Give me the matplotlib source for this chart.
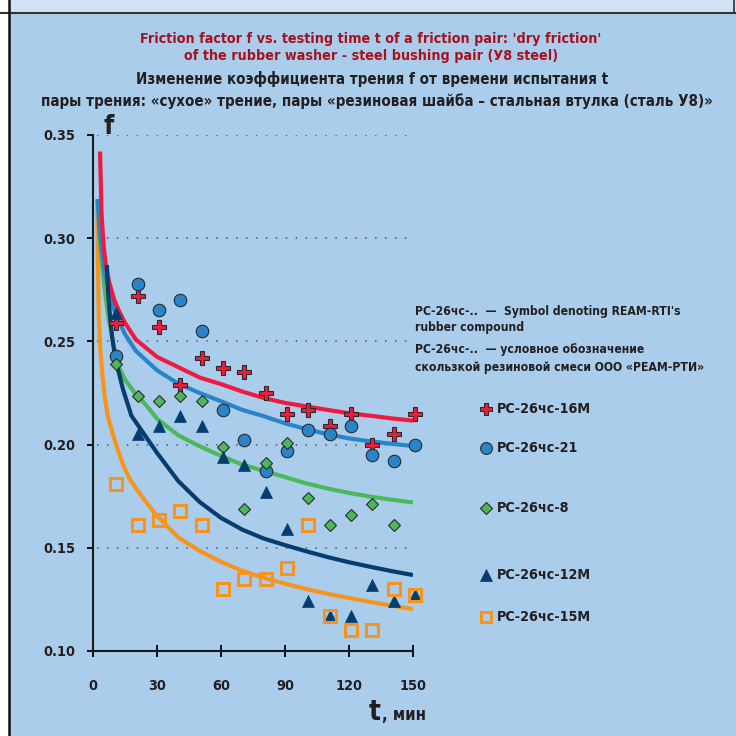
import os
import matplotlib
matplotlib.use("Agg")
import matplotlib.pyplot as plt
from matplotlib import font_manager as fm
from matplotlib.lines import Line2D
from matplotlib.patches import Rectangle

# time points of measurements, min
t_pts = [11, 21, 31, 41, 51, 61, 71, 81, 91, 101, 111, 121, 131, 141, 151]
t_pts_8 = t_pts[:-1]

f_16m = [0.259, 0.272, 0.257, 0.229, 0.242, 0.237, 0.235, 0.225, 0.215, 0.217, 0.209, 0.215, 0.200, 0.205, 0.215]
f_21 = [0.243, 0.278, 0.265, 0.270, 0.255, 0.217, 0.202, 0.187, 0.197, 0.207, 0.205, 0.209, 0.195, 0.192, 0.200]
f_8 = [0.239, 0.2235, 0.221, 0.2235, 0.221, 0.199, 0.169, 0.191, 0.201, 0.174, 0.161, 0.166, 0.171, 0.161]
f_12m = [0.264, 0.205, 0.209, 0.214, 0.209, 0.194, 0.190, 0.177, 0.159, 0.124, 0.117, 0.117, 0.132, 0.124, 0.127]
f_15m = [0.181, 0.161, 0.1635, 0.168, 0.161, 0.130, 0.135, 0.135, 0.140, 0.161, 0.117, 0.110, 0.110, 0.130, 0.127]

# trend curves
red_t = [3.3, 4, 5, 6, 7.5, 10, 12.5, 15, 20, 30, 40, 50, 60, 70, 80, 90, 100, 110, 120, 130, 140, 150]
red_f = [0.342, 0.312, 0.296, 0.287, 0.279, 0.270, 0.264, 0.259, 0.251, 0.2425, 0.2375, 0.2325, 0.2293, 0.2257, 0.2226, 0.2202, 0.2185, 0.2168, 0.2152, 0.2140, 0.2127, 0.2116]

blue_t = [2.2, 3, 4, 5, 6, 8, 10, 12.5, 15, 20, 30, 40, 50, 60, 70, 80, 90, 100, 110, 120, 130, 140, 150]
blue_f = [0.319, 0.305, 0.295, 0.287, 0.281, 0.272, 0.265, 0.259, 0.2535, 0.2455, 0.236, 0.2295, 0.225, 0.221, 0.2168, 0.2138, 0.2103, 0.2075, 0.2050, 0.2030, 0.2016, 0.2004, 0.1993]

green_t = [2.2, 3, 4, 5, 6, 7.5, 9.5, 11, 15, 20, 25, 30, 40, 50, 60, 70, 80, 90, 100, 110, 120, 130, 140, 150]
green_f = [0.319, 0.303, 0.290, 0.280, 0.271, 0.260, 0.249, 0.240, 0.2315, 0.2245, 0.219, 0.2125, 0.2045, 0.1992, 0.1945, 0.1903, 0.1873, 0.1843, 0.1812, 0.1787, 0.1766, 0.1748, 0.1733, 0.1720]

navy_t = [6.5, 7.2, 8, 9, 10, 11, 14, 18, 23.6, 30, 40, 50, 60, 70, 80, 90, 100, 110, 120, 130, 140, 150]
navy_f = [0.287, 0.272, 0.262, 0.252, 0.245, 0.2395, 0.227, 0.214, 0.2056, 0.196, 0.1823, 0.1722, 0.1645, 0.1588, 0.1545, 0.1513, 0.1483, 0.1455, 0.1430, 0.1408, 0.1387, 0.1368]

orange_t = [2.0, 2.3, 2.7, 3.5, 4.5, 5.5, 7, 9, 11, 14, 17, 20, 25, 30, 40, 50, 60, 70, 80, 90, 100, 110, 120, 130, 140, 150]
orange_f = [0.318, 0.29, 0.262, 0.245, 0.233, 0.223, 0.2135, 0.206, 0.1995, 0.1905, 0.1837, 0.179, 0.172, 0.1655, 0.155, 0.1485, 0.1432, 0.1388, 0.1355, 0.1326, 0.1300, 0.1277, 0.1257, 0.1238, 0.1220, 0.1203]

x_ticks = [0, 30, 60, 90, 120, 150]
y_ticks = [0.10, 0.15, 0.20, 0.25, 0.30, 0.35]
grid_y = [0.15, 0.20, 0.25, 0.30, 0.35]

names = ['РС-26чс-16М', 'РС-26чс-21', 'РС-26чс-8', 'РС-26чс-12М', 'РС-26чс-15М']

title_red = ["Friction factor f vs. testing time t of a friction pair: 'dry friction'",
             "of the rubber washer - steel bushing pair (У8 steel)"]
title_ru = ["Изменение коэффициента трения f от времени испытания t",
            "пары трения: «сухое» трение, пары «резиновая шайба – стальная втулка (сталь У8)»"]
note = ["РС-26чс-..  —  Symbol denoting REAM-RTI's",
        "rubber compound",
        "РС-26чс-..  — условное обозначение",
        "скользкой резиновой смеси ООО «РЕАМ-РТИ»"]

RED = '#ee1b3f'
BLUE = '#2a85c8'
GREEN = '#4cb85c'
NAVY = '#063d70'
ORANGE = '#f7941d'
EDGE = '#2a2a2a'
TXT = '#231f20'
BG = '#abcdec'


# the original uses a bold condensed face; take a narrow bold font if one is installed
def pick_font():
    wanted = ['liberationsansnarrow-bold', 'dejavusanscondensed-bold', 'robotocondensed-bold',
              'opensanscondensed-bold', 'notosans-condensedbold', 'opensans-condensedbold']
    files = [f.fname for f in fm.fontManager.ttflist]
    for w in wanted:
        for fn in files:
            base = os.path.splitext(os.path.basename(fn))[0].lower().replace(' ', '')
            if base == w:
                return fm.FontProperties(fname=fn)
    for fn in files:
        base = os.path.basename(fn).lower()
        if ('condensed' in base or 'narrow' in base) and 'bold' in base \
                and 'italic' not in base and 'oblique' not in base:
            return fm.FontProperties(fname=fn)
    return fm.FontProperties(family='DejaVu Sans', weight='bold')


FP = pick_font()

fig = plt.figure(figsize=(7.36, 7.36), dpi=100)
fig.patch.set_facecolor(BG)
renderer = fig.canvas.get_renderer()


def put(x, y, s, size, color=TXT, ha='left', va='center'):
    return fig.text(x / 736, 1 - y / 736, s, fontproperties=FP, fontsize=size,
                    color=color, ha=ha, va=va)


def fit(txt, width_px):
    # scale font size so the text takes the width it has in the original
    w = txt.get_window_extent(renderer=renderer).width
    size = txt.get_fontsize() * width_px / w
    txt.set_fontsize(size)
    return size


# page decorations: light top strip and white left strip
fig.add_artist(Rectangle((0, 1 - 12 / 736), 1, 12 / 736, transform=fig.transFigure, color='#d0e3f6', zorder=0))
fig.add_artist(Line2D([0, 1], [1 - 12.5 / 736] * 2, transform=fig.transFigure, color='#333333', lw=1.5))
fig.add_artist(Line2D([733.5 / 736] * 2, [1 - 12.5 / 736, 1], transform=fig.transFigure, color='#333333', lw=1.2))
fig.add_artist(Rectangle((0, 0), 8 / 736, 1, transform=fig.transFigure, color='white', zorder=0))
fig.add_artist(Line2D([8.5 / 736] * 2, [0, 1], transform=fig.transFigure, color='#111111', lw=1.8))

ax = fig.add_axes([93 / 736, 85 / 736, 320 / 736, 516 / 736])
ax.set_facecolor('none')
ax.set_xlim(0, 150)
ax.set_ylim(0.10, 0.35)

for s in ['top', 'right']:
    ax.spines[s].set_visible(False)
for s in ['left', 'bottom']:
    ax.spines[s].set_linewidth(1.5)
    ax.spines[s].set_color('#1a1a1a')

ax.set_xticks(x_ticks)
ax.set_yticks(y_ticks)
ax.set_xticklabels([str(v) for v in x_ticks])
ax.set_yticklabels(['%.2f' % v for v in y_ticks])

probe = put(0, 0, '150', 12)
tick_size = fit(probe, 27)
probe.remove()
for lbl in ax.get_xticklabels() + ax.get_yticklabels():
    lbl.set_fontproperties(FP)
    lbl.set_fontsize(tick_size)
    lbl.set_color(TXT)
ax.tick_params(axis='y', direction='out', length=4.5, width=1.3, pad=8)
ax.tick_params(axis='x', direction='inout', length=8, width=1.3, pad=16)

ax.hlines(grid_y, 2, 147, colors='#555555', linestyles=(0, (1, 5.5)), linewidth=1.1, zorder=1)

lw = 3.0
ax.plot(orange_t, orange_f, color=ORANGE, lw=lw, solid_capstyle='butt', zorder=2)
ax.plot(green_t, green_f, color=GREEN, lw=lw, solid_capstyle='butt', zorder=2)
ax.plot(blue_t, blue_f, color=BLUE, lw=lw, solid_capstyle='butt', zorder=2)
ax.plot(red_t, red_f, color=RED, lw=lw, solid_capstyle='butt', zorder=2)
ax.plot(navy_t, navy_f, color=NAVY, lw=lw, solid_capstyle='butt', zorder=2)

ms_kw = dict(linestyle='none', clip_on=False, zorder=4)
ax.plot(t_pts, f_16m, marker='P', ms=9.5, mfc=RED, mec=EDGE, mew=0.8, **ms_kw)
ax.plot(t_pts, f_21, marker='o', ms=9, mfc=BLUE, mec=EDGE, mew=0.8, **ms_kw)
ax.plot(t_pts_8, f_8, marker='D', ms=6.5, mfc=GREEN, mec=EDGE, mew=0.8, **ms_kw)
ax.plot(t_pts, f_12m, marker='^', ms=9, mfc=NAVY, mec=NAVY, mew=0.5, **ms_kw)
ax.plot(t_pts, f_15m, marker='s', ms=8, mfc='none', mec=ORANGE, mew=2.2, **ms_kw)

# axis names
put(103, 127, 'f', 19)
t_txt = put(369, 720, 't', 20, va='baseline')
t_w = t_txt.get_window_extent(renderer=renderer).width
put(369 + t_w + 1, 720, ', мин', 12, va='baseline')

# titles
r1 = put(371, 39, title_red[0], 12, color='#a6121d', ha='center')
red_size = fit(r1, 462)
put(371, 56, title_red[1], red_size, color='#a6121d', ha='center')
b2 = put(377, 101, title_ru[1], 12, ha='center')
ru_size = fit(b2, 670)
put(372, 79, title_ru[0], ru_size, ha='center')

# note on compound naming
note_y = [311, 328, 349, 367]
n4 = put(415, note_y[3], note[3], 10)
note_size = fit(n4, 289)
for s, y in zip(note[:3], note_y[:3]):
    put(415, y, s, note_size)

# legend
leg_y = [409, 448, 508, 575, 617]
leg_style = [dict(marker='P', ms=9, mfc=RED, mec=EDGE, mew=0.8),
             dict(marker='o', ms=8.5, mfc=BLUE, mec=EDGE, mew=0.8),
             dict(marker='D', ms=6, mfc=GREEN, mec=EDGE, mew=0.8),
             dict(marker='^', ms=8.5, mfc=NAVY, mec=NAVY, mew=0.5),
             dict(marker='s', ms=7.5, mfc='none', mec=ORANGE, mew=2.2)]
probe = put(0, 0, names[0], 12)
leg_size = fit(probe, 94)
probe.remove()
for name, y, st in zip(names, leg_y, leg_style):
    fig.add_artist(Line2D([486 / 736], [1 - y / 736], transform=fig.transFigure, linestyle='none', **st))
    put(497, y, name, leg_size)

fig.savefig('out.png', dpi=100, facecolor=fig.get_facecolor())
